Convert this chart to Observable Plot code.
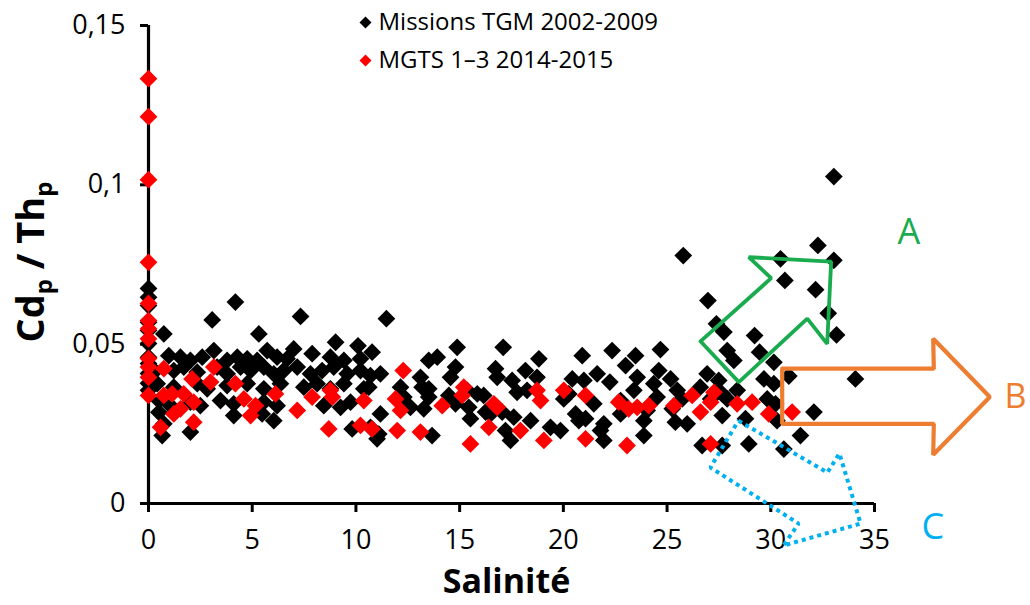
<!DOCTYPE html>
<html>
<head>
<meta charset="utf-8">
<script src="https://cdn.jsdelivr.net/npm/d3@7"></script>
<script src="https://cdn.jsdelivr.net/npm/@observablehq/plot@0.6"></script>
<style>
  html, body { margin: 0; padding: 0; background: #fff; }
  #chart svg { display: block; }
</style>
</head>
<body>
<div id="chart"></div>
<script>
// ---- Data (salinity, Cd_p/Th_p) ----
const seriesNames = ["Missions TGM 2002-2009", "MGTS 1–3 2014-2015"];
const xTicks = [0, 5, 10, 15, 20, 25, 30, 35];
const yTicks = [0, 0.05, 0.1, 0.15];

const tgmPoints = [
  [0,0.0675],[0,0.0647],[0,0.0621],[0,0.0569],[0,0.0543],[0,0.0502],[0,0.0459],[0,0.0439],[0,0.0408],[0,0.0377],[0,0.0355],
  [0.1,0.0428],[0.3,0.0415],[0.42,0.0376],[0.5,0.0323],[0.5,0.0286],[0.66,0.0213],[0.74,0.025],[0.74,0.0532],[0.98,0.0464],[1.06,0.0307],
  [1.22,0.0417],[1.22,0.0365],[1.54,0.0459],[1.7,0.0428],[2.02,0.0449],[2.02,0.0318],[2.02,0.0224],[2.35,0.0412],[2.35,0.0376],[2.5,0.0307],
  [2.59,0.0459],[2.83,0.036],[3.07,0.0576],[3.15,0.048],[3.31,0.0428],[3.47,0.0323],[3.79,0.0449],[3.79,0.0407],[3.79,0.037],[4.11,0.0313],
  [4.11,0.0276],[4.19,0.0632],[4.28,0.0459],[4.44,0.0428],[4.76,0.0454],[4.76,0.0376],[4.92,0.0417],[5.24,0.0449],[5.32,0.0532],[5.48,0.0281],
  [5.56,0.0428],[5.56,0.036],[5.56,0.0318],[5.72,0.048],[6.04,0.0407],[6.04,0.026],[6.2,0.0459],[6.2,0.0307],[6.36,0.0376],[6.52,0.0417],
  [6.68,0.0454],[7.0,0.0485],[7.17,0.0428],[7.33,0.0587],[7.49,0.0365],[7.81,0.0407],[7.89,0.047],[8.13,0.0376],[8.37,0.0417],[8.45,0.0307],
  [8.77,0.0459],[8.77,0.036],[8.93,0.0428],[9.02,0.0506],[9.26,0.0302],[9.42,0.0449],[9.42,0.0376],[9.58,0.0407],[9.74,0.0318],[9.82,0.0234],
  [10.1,0.0495],[10.22,0.0454],[10.22,0.0417],[10.38,0.036],[10.62,0.0365],[10.7,0.0401],[10.78,0.0475],[11.02,0.0203],[10.7,0.0239],
  [11.18,0.0407],[11.18,0.0281],[11.1,0.0218],[11.47,0.058],[12.15,0.0365],[12.31,0.0334],[12.63,0.0302],
  [13.11,0.0396],[13.19,0.0365],[13.27,0.0297],[13.51,0.0449],[13.51,0.036],[13.51,0.0334],[13.67,0.0213],[13.92,0.0459],[14.48,0.0339],[14.56,0.0396],
  [14.8,0.0428],[14.8,0.0313],[14.88,0.049],[15.36,0.0355],[15.44,0.0302],[15.52,0.0266],[15.85,0.0344],[16.16,0.0339],[16.25,0.0287],[16.49,0.0281],
  [16.73,0.0423],[16.81,0.0396],[17.05,0.0287],[17.1,0.049],[17.21,0.0229],[17.45,0.0198],[17.53,0.0386],[17.61,0.0271],[17.77,0.0349],[18.17,0.0417],
  [18.25,0.0355],[18.42,0.026],[18.73,0.0396],[18.82,0.0454],[19.38,0.0239],[19.86,0.0229],[20.02,0.0328],[20.26,0.0344],[20.43,0.0391],[20.59,0.0281],
  [20.75,0.026],[20.91,0.0464],[20.99,0.0386],[21.07,0.0266],[21.47,0.0313],[21.63,0.0407],[21.79,0.0229],[21.95,0.0198],[22.24,0.0381],[22.35,0.048],
  [21.95,0.025],[22.76,0.0281],[22.76,0.0323],[23.0,0.0433],[23.4,0.0355],[23.48,0.0464],[23.56,0.0396],[23.88,0.026],[23.88,0.0213],
  [24.04,0.0292],[24.36,0.0376],[24.52,0.0334],[24.6,0.0417],[24.68,0.0483],[25.17,0.0391],[25.25,0.0297],[25.4,0.0255],[25.49,0.0355],[25.73,0.0328],
  [25.78,0.0778],[25.97,0.025],[26.6,0.0365],[26.69,0.0182],[26.93,0.0407],[26.97,0.0637],[27.1,0.0328],[27.38,0.0564],[27.49,0.0386],[27.66,0.0344],
  [27.66,0.0276],[27.66,0.0182],[27.74,0.0538],[27.9,0.048],[27.9,0.0328],[28.22,0.0449],[28.38,0.0355],[28.78,0.0266],[28.94,0.0187],[29.22,0.0527],
  [29.46,0.0475],[29.67,0.0391],[29.83,0.0328],[30.15,0.0443],[30.15,0.0376],[30.23,0.0313],[30.3,0.026],[30.47,0.0768],[30.63,0.0171],[30.68,0.07],
  [30.87,0.04],[31.43,0.0213],[32.08,0.0287],[32.16,0.0671],[32.27,0.081],[32.77,0.0597],[33.04,0.1026],[33.04,0.0763],[33.17,0.0529],[34.08,0.0391]
];

const mgtsPoints = [
  [0,0.1333],[0,0.1214],[0,0.1016],[0,0.0757],[0,0.0628],[0,0.0574],[0,0.0548],[0,0.0517],[0,0.0455],[0,0.0428],[0,0.0396],[0,0.0339],
  [0.74,0.0423],[0.74,0.0339],[1.14,0.0344],[1.22,0.0281],[1.54,0.0297],[1.7,0.0344],[2.1,0.0391],[2.18,0.0318],[2.18,0.0255],[0.58,0.0239],
  [2.99,0.0381],[3.15,0.0428],[4.19,0.0376],[4.6,0.0328],[4.92,0.0276],[5.16,0.0307],[6.12,0.0344],[7.17,0.0292],[7.89,0.0334],[8.77,0.0355],
  [8.86,0.0334],[8.69,0.0234],[10.38,0.0323],[10.22,0.0245],[10.78,0.0234],
  [12.28,0.0417],[11.91,0.0328],[12.15,0.0292],[11.99,0.0229],[13.11,0.0224],[14.16,0.0307],[15.2,0.0365],[15.12,0.0339],[16.65,0.0313],[16.81,0.0302],
  [16.41,0.0239],[15.52,0.0187],[17.93,0.0229],[18.73,0.0355],[18.9,0.0323],[19.06,0.0198],[20.02,0.0355],[21.07,0.0339],[21.07,0.0203],[22.67,0.0318],
  [23.15,0.0297],[23.56,0.0302],[24.12,0.0307],[25.33,0.0307],[26.21,0.0339],[26.61,0.0287],[27.1,0.0318],[27.26,0.0349],[28.38,0.0313],[29.1,0.0318],
  [29.9,0.0281],[31.03,0.0287],[23.07,0.0182],[27.1,0.0187]
];

// ---- Annotation shapes (in salinity / ratio units) ----
const arrowA = [[26.61,0.0509],[30.02,0.0707],[28.94,0.0773],[32.91,0.0759],[32.72,0.0501],[31.76,0.058],[28.46,0.0381],[26.61,0.0509]];
const arrowB = [[30.55,0.0423],[37.86,0.0423],[37.83,0.0517],[40.56,0.0334],[37.83,0.0153],[37.86,0.025],[30.55,0.025],[30.55,0.0423]];
const arrowC = [[28.44,0.026],[32.73,0.0097],[33.31,0.0157],[34.33,-0.0063],[30.61,-0.0132],[31.34,-0.0063],[27.09,0.0113],[28.44,0.026]];

const toRows = pts => pts.map(([s, r]) => ({salinite: s, ratio: r}));
const tgm = toRows(tgmPoints);
const mgts = toRows(mgtsPoints);
const fmt = d => d === 0 ? "0" : String(d).replace(".", ",");

const FONT = "'Open Sans', 'Noto Sans', sans-serif";

const plot = Plot.plot({
  width: 1030,
  height: 605,
  marginLeft: 148,
  marginRight: 156,
  marginTop: 25,
  marginBottom: 102,
  style: {fontFamily: FONT, background: "#fff", color: "#000", overflow: "visible"},
  x: {domain: [0, 35]},
  y: {domain: [0, 0.15]},
  marks: [
    Plot.axisX({ticks: xTicks, tickSize: 9, tickPadding: 17, fontSize: 27, strokeWidth: 3, label: null}),
    Plot.axisY({ticks: yTicks, tickSize: 8, tickPadding: 15, fontSize: 27, strokeWidth: 3, tickFormat: fmt, label: null}),
    Plot.ruleY([0], {strokeWidth: 3.2, stroke: "#000"}),
    Plot.ruleX([0], {strokeWidth: 3.2, stroke: "#000"}),
    Plot.dot(tgm, {x: "salinite", y: "ratio", symbol: "diamond2", r: 8, fill: "#000", stroke: "none"}),
    Plot.dot(mgts, {x: "salinite", y: "ratio", symbol: "diamond2", r: 8, fill: "#ff0000", stroke: "none"}),
    Plot.line(arrowA, {x: d => d[0], y: d => d[1], stroke: "#1aab4f", strokeWidth: 3.8, strokeLinejoin: "miter"}),
    Plot.line(arrowB, {x: d => d[0], y: d => d[1], stroke: "#ed7d31", strokeWidth: 4.2, strokeLinejoin: "miter"}),
    Plot.line(arrowC, {x: d => d[0], y: d => d[1], stroke: "#00b0f0", strokeWidth: 4, strokeDasharray: "4,4", strokeLinecap: "butt", strokeLinejoin: "miter"}),
    // legend
    Plot.dot([seriesNames[0]], {frameAnchor: "top-left", dx: 217, dy: -3, symbol: "diamond2", r: 5.4, fill: "#000"}),
    Plot.dot([seriesNames[1]], {frameAnchor: "top-left", dx: 217, dy: 35, symbol: "diamond2", r: 5.4, fill: "#ff0000"}),
    Plot.text([seriesNames[0]], {frameAnchor: "top-left", dx: 230, dy: -3, textAnchor: "start", lineAnchor: "middle", fontSize: 24, fill: "#000"}),
    Plot.text([seriesNames[1]], {frameAnchor: "top-left", dx: 230, dy: 35, textAnchor: "start", lineAnchor: "middle", fontSize: 24, fill: "#000"}),
    // annotation letters
    Plot.text(["A"], {frameAnchor: "top-left", dx: 749, dy: 207, lineAnchor: "middle", fontSize: 36, fill: "#1aab4f"}),
    Plot.text(["B"], {frameAnchor: "top-left", dx: 878, dy: 372, textAnchor: "end", lineAnchor: "middle", fontSize: 34, fill: "#ed7d31"}),
    Plot.text(["C"], {frameAnchor: "top-left", dx: 773, dy: 502, lineAnchor: "middle", fontSize: 36, fill: "#00b0f0"}),
    // x title
    Plot.text(["Salinité"], {frameAnchor: "bottom", dx: -5, dy: 79, lineAnchor: "middle", fontSize: 34, fontWeight: "bold", fill: "#000"})
  ]
});

// y title with subscripts
const svg = d3.select(plot);
const yt = svg.append("text")
  .attr("transform", "translate(44,262) rotate(-90)")
  .attr("text-anchor", "middle")
  .attr("font-family", FONT)
  .attr("font-weight", "bold")
  .attr("font-size", 38)
  .attr("fill", "#000");
yt.append("tspan").text("Cd");
yt.append("tspan").attr("font-size", 24).attr("dy", 8).text("p");
yt.append("tspan").attr("dy", -8).text(" / Th");
yt.append("tspan").attr("font-size", 24).attr("dy", 8).text("p");

document.getElementById("chart").appendChild(plot);
</script>
</body>
</html>
